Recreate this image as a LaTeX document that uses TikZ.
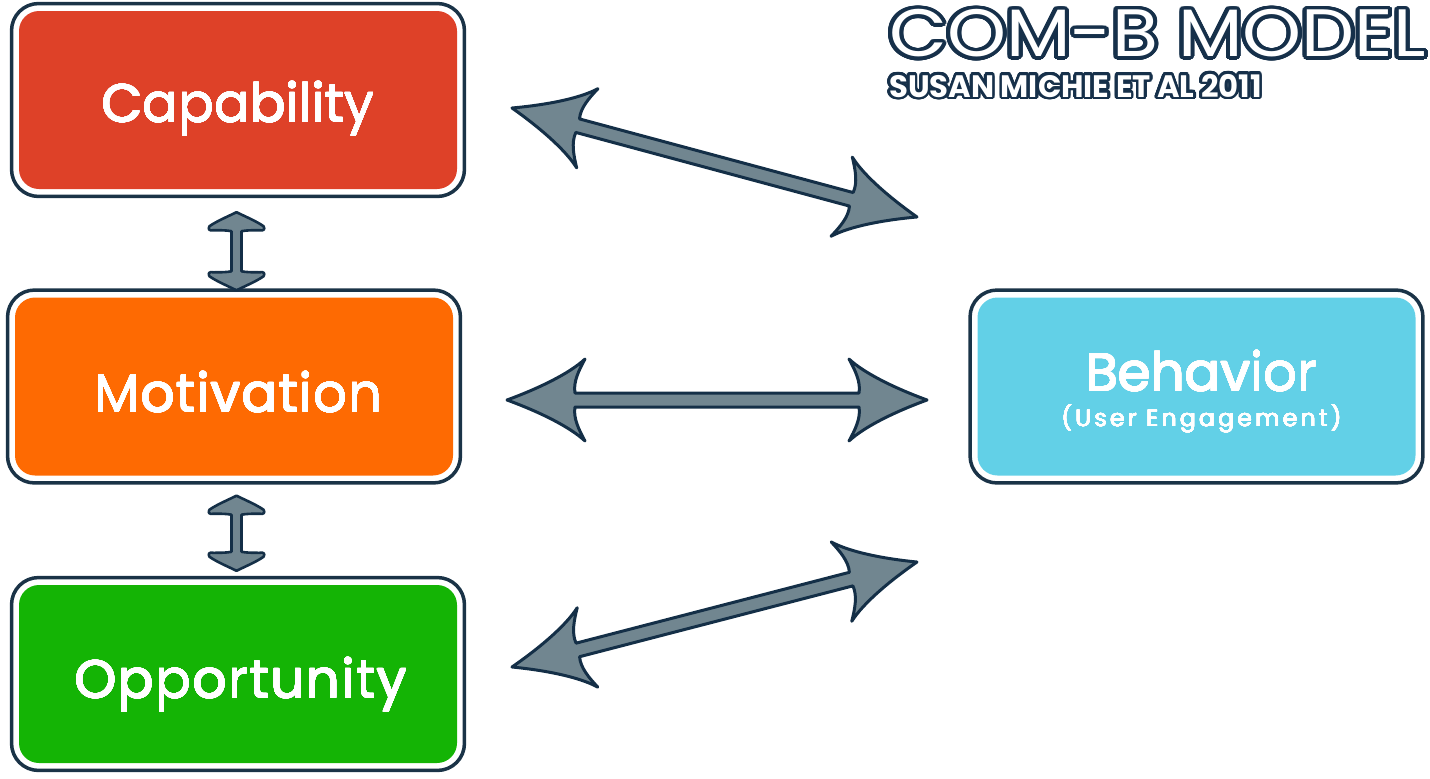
\documentclass[tikz,border=0pt]{standalone}
\usepackage{fontspec}
\setmainfont{Poppins}
\usepackage{contour}
\contournumber{32}
\usetikzlibrary{calc}
\definecolor{border}{HTML}{1A3347}
\definecolor{capred}{HTML}{DE4128}
\definecolor{motorange}{HTML}{FE6A02}
\definecolor{oppgreen}{HTML}{14B405}
\definecolor{behblue}{HTML}{62D0E7}
\definecolor{arrgray}{HTML}{718690}
\definecolor{arrline}{HTML}{142F47}
\definecolor{titlecol}{HTML}{16304A}

\newcommand\heavy[1]{\contourlength{0.3pt}\contour{white}{#1}}

\tikzset{
  box/.style={fill=#1, rounded corners=20pt, minimum width=438pt, minimum height=178pt,
    inner sep=0pt},
  boxlabel/.style={anchor=base, inner sep=0pt, text=white, font=\fontsize{53}{60}\selectfont},
  boxborder/.style={draw=border, line width=3.5pt, rounded corners=27pt},
  arrowshape/.style={fill=arrgray, draw=arrline, line width=3pt, line join=round},
  pics/bigarr/.style={code={
    \pgfmathsetmacro\L{#1}
    \filldraw[arrowshape] (0,0) .. controls (30,11) and (62,26) .. (78,41)
      .. controls (72,30) and (66,18) .. (68,7)
      -- (\L-68,7) .. controls (\L-66,18) and (\L-72,30) .. (\L-78,41)
      .. controls (\L-62,26) and (\L-30,11) .. (\L,0)
      .. controls (\L-30,-11) and (\L-62,-26) .. (\L-78,-41)
      .. controls (\L-72,-30) and (\L-66,-18) .. (\L-68,-7)
      -- (68,-7) .. controls (66,-18) and (72,-30) .. (78,-41)
      .. controls (62,-26) and (30,-11) .. (0,0) -- cycle;
  }},
  pics/smallarr/.style={code={
    \pgfmathsetmacro\L{#1}
    \filldraw[arrowshape, line width=2.6pt] (0,0) .. controls (4,8) and (9,20) .. (14,27)
      .. controls (17,29) and (19,27) .. (18,23)
      .. controls (18,16) and (18,10) .. (19,5)
      -- (\L-19,5) .. controls (\L-18,10) and (\L-18,16) .. (\L-18,23)
      .. controls (\L-19,27) and (\L-17,29) .. (\L-14,27)
      .. controls (\L-9,20) and (\L-4,8) .. (\L,0)
      .. controls (\L-4,-8) and (\L-9,-20) .. (\L-14,-27)
      .. controls (\L-17,-29) and (\L-19,-27) .. (\L-18,-23)
      .. controls (\L-18,-16) and (\L-18,-10) .. (\L-19,-5)
      -- (19,-5) .. controls (18,-10) and (18,-16) .. (18,-23)
      .. controls (19,-27) and (17,-29) .. (14,-27)
      .. controls (9,-20) and (4,-8) .. (0,0) -- cycle;
  }}
}

\newcommand\linkarrow[3]{%
  \path let \p1=($(#3)-(#2)$) in \pgfextra{%
    \pgfmathsetmacro\arrang{atan2(\y1,\x1)}%
    \pgfmathsetmacro\arrlen{veclen(\x1,\y1)}%
    \global\let\arrang\arrang\global\let\arrlen\arrlen};
  \pic[rotate=\arrang] at (#2) {#1=\arrlen};
}

\begin{document}
\begin{tikzpicture}[x=1pt,y=-1pt]
\useasboundingbox (0,0) rectangle (1430,779);

% boxes
\node[box=capred] (cap) at (238,100) {};
\node[box=motorange] (mot) at (234,386.5) {};
\node[box=oppgreen] (opp) at (238,674) {};
\node[box=behblue] (beh) at (1196.5,386.5) {};
\foreach \n in {cap,mot,opp,beh}
  \draw[boxborder] ([shift={(-7.25pt,-7.25pt)}]\n.south west) rectangle ([shift={(7.25pt,7.25pt)}]\n.north east);

\node[boxlabel] (capT) at (238,122) {\heavy{Capability}};
\node[boxlabel] (motT) at (238.5,412) {\addfontfeatures{LetterSpace=2.2}\heavy{Motivation}};
\node[boxlabel] (oppT) at (241,698) {\addfontfeatures{LetterSpace=3}\heavy{Opportunity}};
\node[boxlabel] (behT) at (1201.5,391) {\heavy{Behavior}};
\node[boxlabel, font=\fontsize{23.5}{26}\selectfont] (behS) at (1201.5,426.5)
  {\addfontfeatures{LetterSpace=14}\contourlength{0.2pt}\contour{white}{(User Engagement)}};

% title
\node[anchor=west, inner sep=0pt, text=white, font=\fontsize{67}{70}\selectfont] (title) at (889,35)
  {\scalebox{1.12}[1]{\contourlength{3.6pt}\contour{titlecol}{COM-B MODEL}}};
\node[anchor=west, inner sep=0pt, text=white] (subtitle) at (889,87)
  {\scalebox{0.99}[1]{\fontsize{31}{34}\selectfont\bfseries\contourlength{2.6pt}\contour{titlecol}{SUSAN MICHIE ET AL 2011}}};

% connectors
\coordinate (c1a) at (512,108);
\coordinate (c1b) at (917,217);
\coordinate (c2a) at (507,400);
\coordinate (c2b) at (927,400);
\coordinate (c3a) at (512,667);
\coordinate (c3b) at (917,562);
\coordinate (v1a) at ($(cap.south)+(-1.5pt,-23pt)$);
\coordinate (v1b) at ($(mot.north)+(2.5pt,7pt)$);
\coordinate (v2a) at ($(mot.south)+(2.5pt,-20pt)$);
\coordinate (v2b) at ($(opp.north)+(-1.5pt,14pt)$);

\linkarrow{bigarr}{c1a}{c1b}
\linkarrow{bigarr}{c2a}{c2b}
\linkarrow{bigarr}{c3a}{c3b}
\linkarrow{smallarr}{v1a}{v1b}
\linkarrow{smallarr}{v2a}{v2b}
\end{tikzpicture}
\end{document}
